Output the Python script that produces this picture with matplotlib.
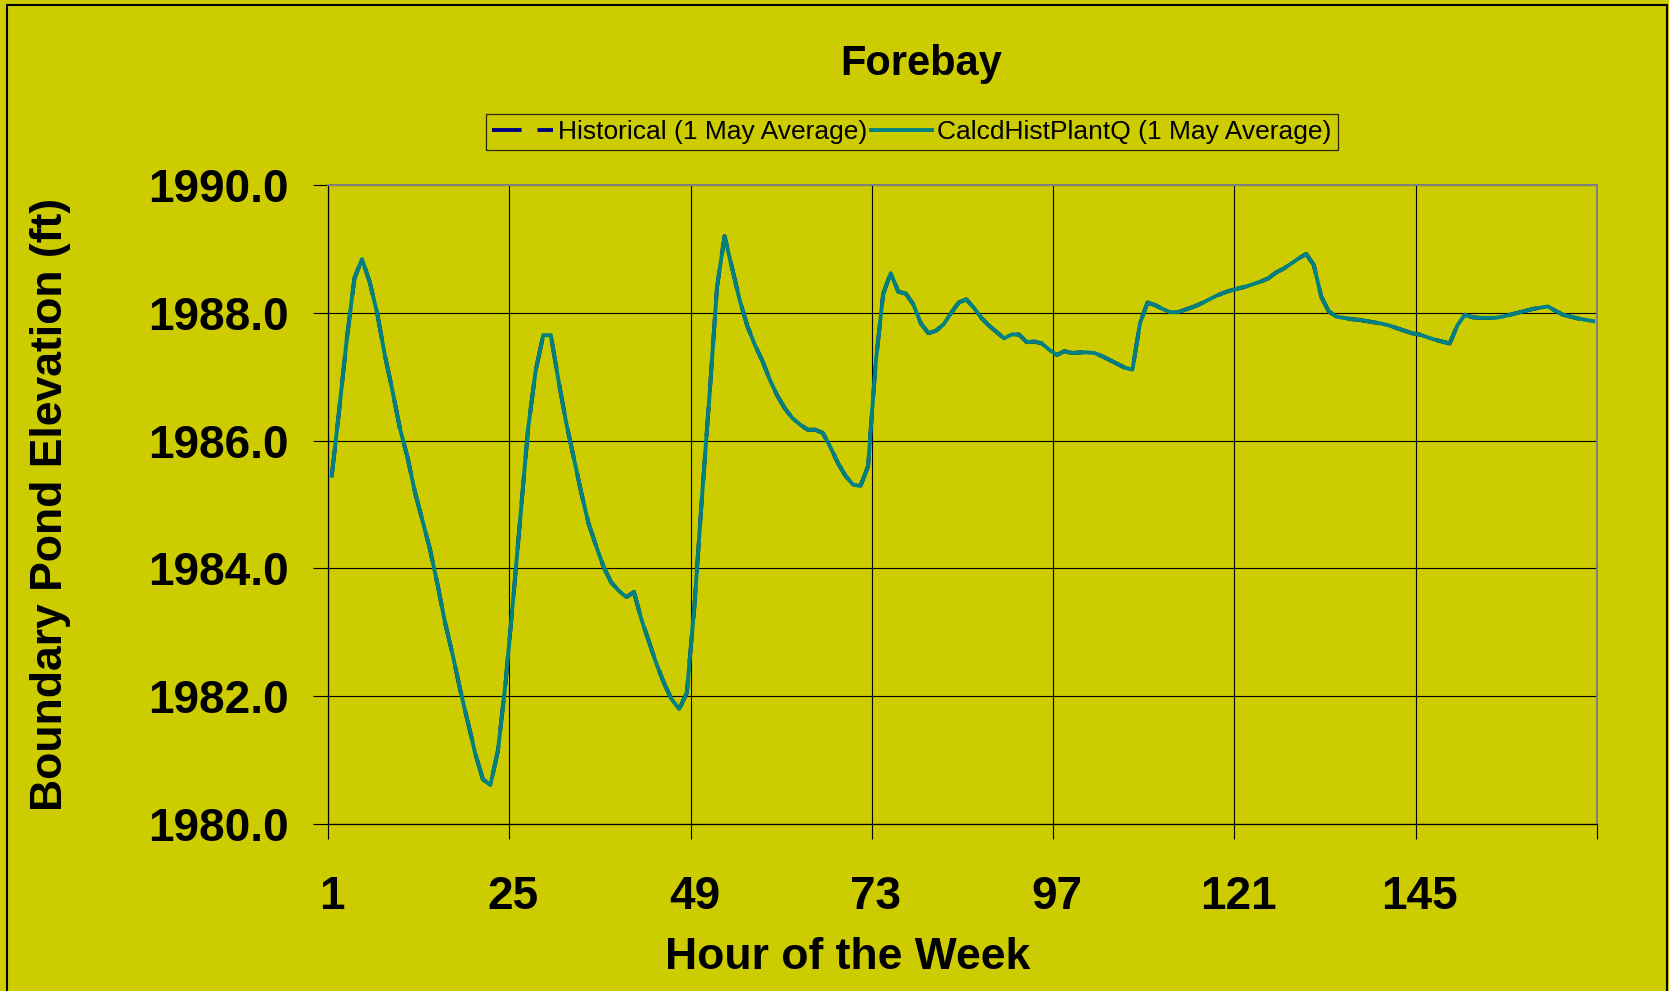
import matplotlib
matplotlib.use('Agg')
import matplotlib.pyplot as plt
from matplotlib.lines import Line2D
from matplotlib.patches import Rectangle
import numpy as np

plt.rcParams['font.family'] = ['Liberation Sans', 'DejaVu Sans']

BG = '#CCCC00'
TEAL = '#008080'
NAVY = '#000080'

# hour of the week, 1..168
hours = np.arange(1, 169)

# CalcdHistPlantQ (1 May Average)
calcd = [
    1985.45, 1986.50, 1987.60, 1988.54, 1988.84, 1988.49, 1988.00, 1987.35,  # 1-8
    1986.80, 1986.20, 1985.75, 1985.20, 1984.75, 1984.30, 1983.75, 1983.15,  # 9-16
    1982.65, 1982.10, 1981.60, 1981.10, 1980.70, 1980.61, 1981.15, 1982.20,  # 17-24
    1983.50, 1984.85, 1986.20, 1987.10, 1987.65, 1987.65, 1986.95, 1986.30,  # 25-32
    1985.75, 1985.20, 1984.70, 1984.35, 1984.02, 1983.78, 1983.65, 1983.55,  # 33-40
    1983.63, 1983.20, 1982.85, 1982.50, 1982.20, 1981.95, 1981.80, 1982.05,  # 41-48
    1983.40, 1985.10, 1986.70, 1988.40, 1989.20, 1988.70, 1988.20, 1987.80,  # 49-56
    1987.50, 1987.25, 1986.95, 1986.70, 1986.50, 1986.35, 1986.25, 1986.17,  # 57-64
    1986.17, 1986.12, 1985.90, 1985.65, 1985.45, 1985.31, 1985.29, 1985.60,  # 65-72
    1987.21, 1988.30, 1988.62, 1988.33, 1988.30, 1988.13, 1987.83, 1987.68,  # 73-80
    1987.72, 1987.82, 1988.00, 1988.16, 1988.21, 1988.08, 1987.92, 1987.80,  # 81-88
    1987.70, 1987.60, 1987.66, 1987.66, 1987.54, 1987.55, 1987.52, 1987.42,  # 89-96
    1987.34, 1987.40, 1987.37, 1987.38, 1987.38, 1987.37, 1987.32, 1987.26,  # 97-104
    1987.20, 1987.14, 1987.11, 1987.84, 1988.16, 1988.12, 1988.06, 1988.01,  # 105-112
    1988.01, 1988.05, 1988.09, 1988.14, 1988.20, 1988.26, 1988.31, 1988.35,  # 113-120
    1988.38, 1988.41, 1988.45, 1988.49, 1988.54, 1988.63, 1988.69, 1988.77,  # 121-128
    1988.85, 1988.92, 1988.75, 1988.25, 1988.02, 1987.94, 1987.92, 1987.90,  # 129-136
    1987.89, 1987.87, 1987.85, 1987.83, 1987.80, 1987.76, 1987.72, 1987.68,  # 137-144
    1987.66, 1987.62, 1987.58, 1987.55, 1987.52, 1987.80, 1987.97, 1987.93,  # 145-152
    1987.92, 1987.92, 1987.92, 1987.94, 1987.97, 1988.00, 1988.03, 1988.06,  # 153-160
    1988.08, 1988.10, 1988.03, 1987.97, 1987.94, 1987.91, 1987.89, 1987.87,  # 161-168
]
# Historical (1 May Average) sits underneath, practically identical
historical = list(calcd)

tick_hours = [1, 25, 49, 73, 97, 121, 145]
yticks = [1980, 1982, 1984, 1986, 1988, 1990]

fig = plt.figure(figsize=(16.69, 9.91), dpi=100, facecolor=BG)
ax = fig.add_axes([328 / 1669, 1 - 824 / 991, 1269 / 1669, 639 / 991])
ax.set_facecolor(BG)

ax.plot(hours, historical, color=NAVY, lw=2.8, dashes=(7.6, 4.1), zorder=3)
ax.plot(hours, calcd, color=TEAL, lw=2.8, zorder=4)

ax.set_xlim(0.5, 168.5)
ax.set_ylim(1980, 1990)

# category boundaries carry ticks + gridlines, labels sit on category centres
ax.set_xticks(np.arange(0.5, 169, 24))
ax.set_xticklabels([])
ax.set_xticks(tick_hours, labels=[str(h) for h in tick_hours], minor=True)
ax.set_yticks(yticks, labels=[f'{v:.1f}' for v in yticks])

ax.tick_params(axis='both', which='major', direction='out', length=11, width=0.8,
               color='black')
ax.tick_params(axis='y', which='major', pad=17, labelsize=33)
ax.tick_params(axis='x', which='minor', length=0, pad=37, labelsize=33)
for lbl in ax.get_yticklabels() + ax.get_xticklabels(minor=True):
    lbl.set_fontweight('bold')

ax.grid(True, which='major', color='black', lw=0.8)
ax.set_axisbelow(True)
for side in ['left', 'bottom']:
    ax.spines[side].set_color('black')
    ax.spines[side].set_linewidth(0.9)
for side in ['top', 'right']:
    ax.spines[side].set_color('#808080')
    ax.spines[side].set_linewidth(1.5)

fig.text(921 / 1669, 1 - 75 / 991, 'Forebay', ha='center', va='baseline',
         fontsize=30, fontweight='bold')
fig.text(848 / 1669, 1 - 969 / 991, 'Hour of the Week', ha='center', va='baseline',
         fontsize=32, fontweight='bold')
fig.text(51 / 1669, 1 - 504 / 991, 'Boundary Pond Elevation (ft)', ha='center',
         va='center', rotation=90, fontsize=32, fontweight='bold')

handles = [Line2D([], [], color=NAVY, lw=2.8, dashes=(7.6, 4.1)),
           Line2D([], [], color=TEAL, lw=2.8)]
leg = fig.legend(handles, ['Historical (1 May Average)', 'CalcdHistPlantQ (1 May Average)'],
                 loc='center', bbox_to_anchor=(912 / 1669, 1 - 132 / 991), ncol=2,
                 fontsize=19, frameon=True, fancybox=False, handlelength=2.3,
                 handletextpad=0.2, columnspacing=0.15, borderpad=0.22)
leg.get_frame().set_facecolor(BG)
leg.get_frame().set_edgecolor('black')
leg.get_frame().set_linewidth(0.9)

# outer chart frame
fig.patches.append(Rectangle((7 / 1669, -0.05), 1660 / 1669, 1.05 - 5 / 991,
                             transform=fig.transFigure, fill=False,
                             edgecolor='black', lw=1.5))

fig.savefig('out.png', dpi=100, facecolor=BG)
